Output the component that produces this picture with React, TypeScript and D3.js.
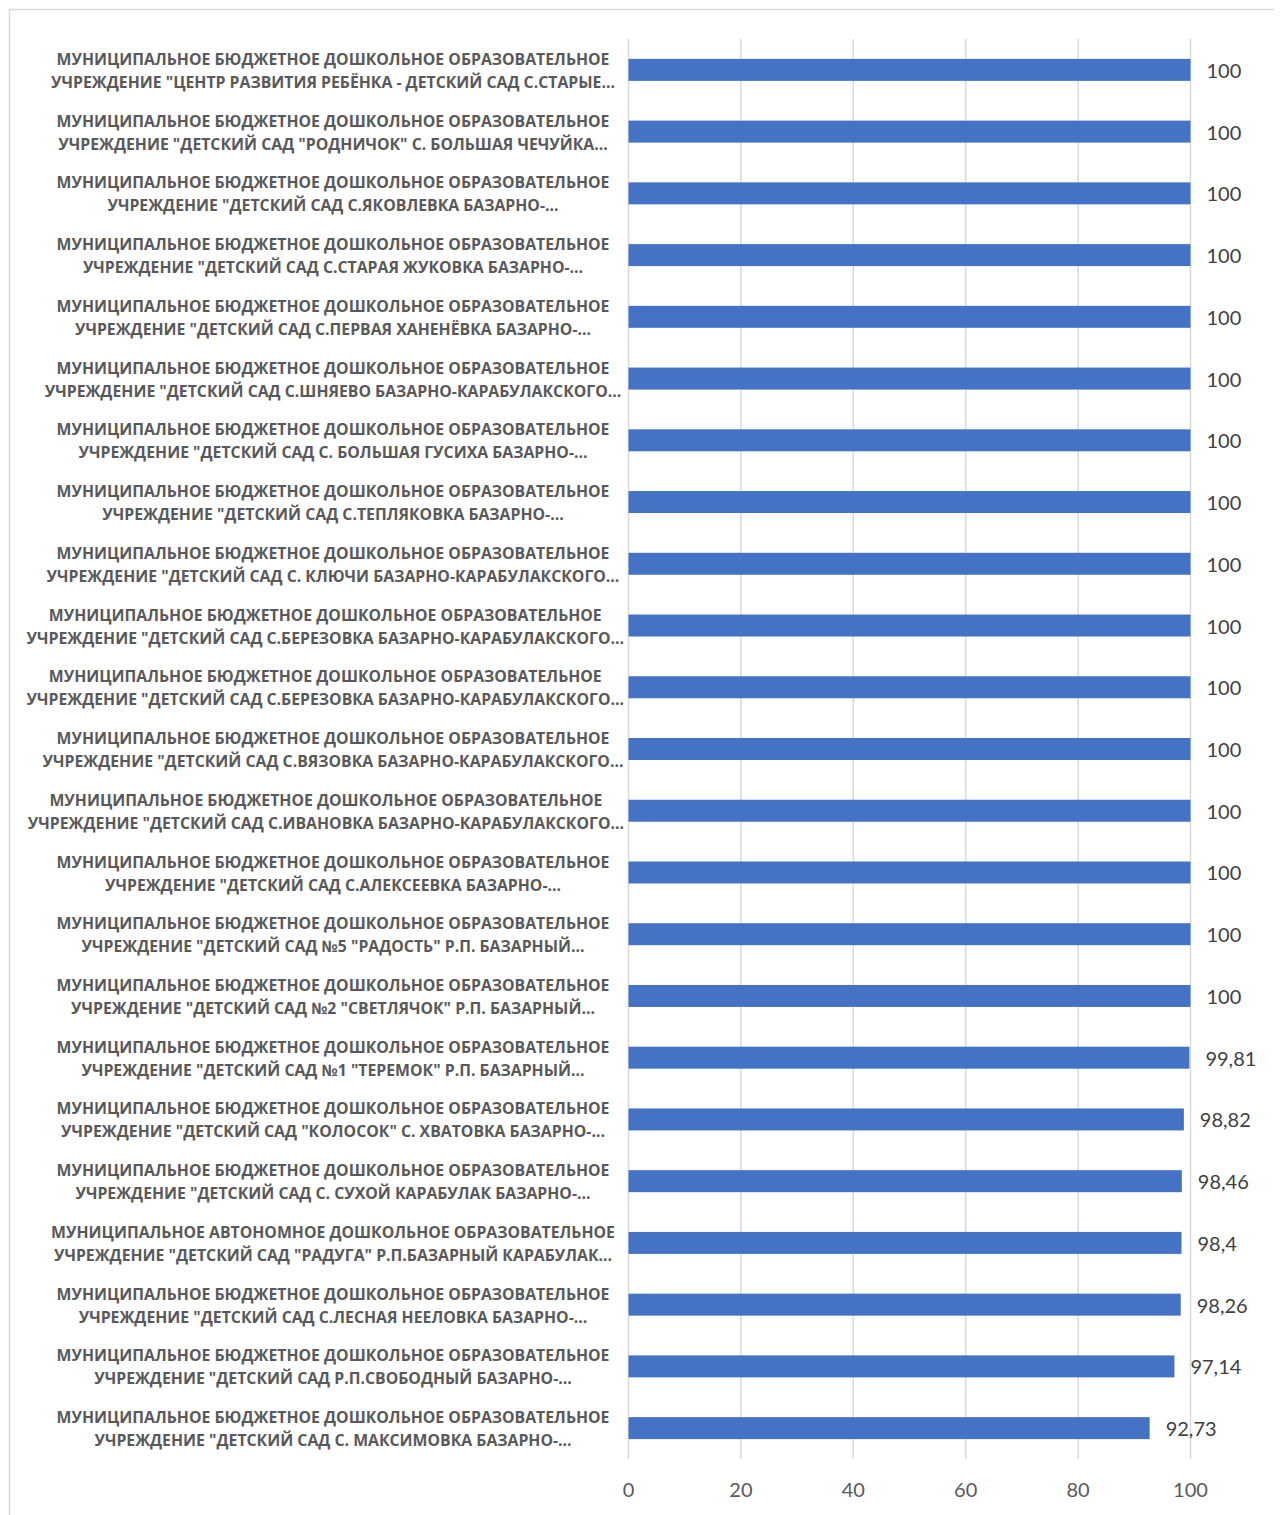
import React, { useEffect, useRef } from "react";
import * as d3 from "d3";

const LINE1_B = "МУНИЦИПАЛЬНОЕ БЮДЖЕТНОЕ ДОШКОЛЬНОЕ ОБРАЗОВАТЕЛЬНОЕ";
const LINE1_A = "МУНИЦИПАЛЬНОЕ АВТОНОМНОЕ ДОШКОЛЬНОЕ ОБРАЗОВАТЕЛЬНОЕ";

const firstLines: string[] = [
  LINE1_B, LINE1_B, LINE1_B, LINE1_B, LINE1_B, LINE1_B, LINE1_B, LINE1_B,
  LINE1_B, LINE1_B, LINE1_B, LINE1_B, LINE1_B, LINE1_B, LINE1_B, LINE1_B,
  LINE1_B, LINE1_B, LINE1_B, LINE1_A, LINE1_B, LINE1_B, LINE1_B,
];

const secondLines: string[] = [
  'УЧРЕЖДЕНИЕ "ЦЕНТР РАЗВИТИЯ РЕБЁНКА - ДЕТСКИЙ САД С.СТАРЫЕ…',
  'УЧРЕЖДЕНИЕ "ДЕТСКИЙ САД "РОДНИЧОК" С. БОЛЬШАЯ ЧЕЧУЙКА…',
  'УЧРЕЖДЕНИЕ "ДЕТСКИЙ САД С.ЯКОВЛЕВКА БАЗАРНО-…',
  'УЧРЕЖДЕНИЕ "ДЕТСКИЙ САД С.СТАРАЯ ЖУКОВКА БАЗАРНО-…',
  'УЧРЕЖДЕНИЕ "ДЕТСКИЙ САД С.ПЕРВАЯ ХАНЕНЁВКА БАЗАРНО-…',
  'УЧРЕЖДЕНИЕ "ДЕТСКИЙ САД С.ШНЯЕВО БАЗАРНО-КАРАБУЛАКСКОГО…',
  'УЧРЕЖДЕНИЕ "ДЕТСКИЙ САД С. БОЛЬШАЯ ГУСИХА БАЗАРНО-…',
  'УЧРЕЖДЕНИЕ "ДЕТСКИЙ САД С.ТЕПЛЯКОВКА БАЗАРНО-…',
  'УЧРЕЖДЕНИЕ "ДЕТСКИЙ САД С. КЛЮЧИ БАЗАРНО-КАРАБУЛАКСКОГО…',
  'УЧРЕЖДЕНИЕ "ДЕТСКИЙ САД С.БЕРЕЗОВКА БАЗАРНО-КАРАБУЛАКСКОГО…',
  'УЧРЕЖДЕНИЕ "ДЕТСКИЙ САД С.БЕРЕЗОВКА БАЗАРНО-КАРАБУЛАКСКОГО…',
  'УЧРЕЖДЕНИЕ "ДЕТСКИЙ САД С.ВЯЗОВКА БАЗАРНО-КАРАБУЛАКСКОГО…',
  'УЧРЕЖДЕНИЕ "ДЕТСКИЙ САД С.ИВАНОВКА БАЗАРНО-КАРАБУЛАКСКОГО…',
  'УЧРЕЖДЕНИЕ "ДЕТСКИЙ САД С.АЛЕКСЕЕВКА БАЗАРНО-…',
  'УЧРЕЖДЕНИЕ "ДЕТСКИЙ САД №5 "РАДОСТЬ" Р.П. БАЗАРНЫЙ…',
  'УЧРЕЖДЕНИЕ "ДЕТСКИЙ САД №2 "СВЕТЛЯЧОК" Р.П. БАЗАРНЫЙ…',
  'УЧРЕЖДЕНИЕ "ДЕТСКИЙ САД №1 "ТЕРЕМОК" Р.П. БАЗАРНЫЙ…',
  'УЧРЕЖДЕНИЕ "ДЕТСКИЙ САД "КОЛОСОК" С. ХВАТОВКА БАЗАРНО-…',
  'УЧРЕЖДЕНИЕ "ДЕТСКИЙ САД С. СУХОЙ КАРАБУЛАК БАЗАРНО-…',
  'УЧРЕЖДЕНИЕ "ДЕТСКИЙ САД "РАДУГА" Р.П.БАЗАРНЫЙ КАРАБУЛАК…',
  'УЧРЕЖДЕНИЕ "ДЕТСКИЙ САД С.ЛЕСНАЯ НЕЕЛОВКА БАЗАРНО-…',
  'УЧРЕЖДЕНИЕ "ДЕТСКИЙ САД Р.П.СВОБОДНЫЙ БАЗАРНО-…',
  'УЧРЕЖДЕНИЕ "ДЕТСКИЙ САД С. МАКСИМОВКА БАЗАРНО-…',
];

const values: number[] = [
  100, 100, 100, 100, 100, 100, 100, 100, 100, 100, 100, 100, 100, 100, 100, 100,
  99.81, 98.82, 98.46, 98.4, 98.26, 97.14, 92.73,
];

const xTicks: number[] = [0, 20, 40, 60, 80, 100];

const W = 1274;
const H = 1507;

export default function App() {
  const ref = useRef<SVGSVGElement | null>(null);

  useEffect(() => {
    const svg = d3.select(ref.current);
    svg.selectAll("*").remove();

    const ox = -8; // page offset (body margin)
    const left = 628.5 + ox;
    const right = 1190.5 + ox;
    const top = 39 + ox;
    const bottom = 1459 + ox;

    const idx = values.map((_, i) => i);
    const x = d3.scaleLinear().domain([0, 100]).range([left, right]);
    const y = d3.scaleBand<number>().domain(idx).range([top, bottom]).paddingInner(0.644).paddingOuter(0.322);

    svg.append("rect")
      .attr("x", 1.5).attr("y", 1.5)
      .attr("width", W + 20).attr("height", H + 20)
      .attr("fill", "#fff").attr("stroke", "#d9d9d9").attr("stroke-width", 1.5);

    svg.append("g").selectAll("line").data(xTicks).join("line")
      .attr("x1", (d) => x(d)).attr("x2", (d) => x(d))
      .attr("y1", top).attr("y2", bottom)
      .attr("stroke", "#d9d9d9").attr("stroke-width", 1.5);

    svg.append("g").selectAll("rect").data(idx).join("rect")
      .attr("x", x(0))
      .attr("y", (i) => y(i)!)
      .attr("width", (i) => x(values[i]) - x(0))
      .attr("height", y.bandwidth())
      .attr("fill", "#4472c4");

    svg.append("g").selectAll("text").data(idx).join("text")
      .attr("x", (i) => x(values[i]) + 16)
      .attr("y", (i) => y(i)! + y.bandwidth() / 2 + 1)
      .attr("dy", "0.35em")
      .attr("font-family", "Lato, 'Open Sans', sans-serif")
      .attr("font-size", 20)
      .attr("fill", "#404040")
      .text((i) => String(values[i]).replace(".", ","));

    svg.append("g").selectAll("text").data(xTicks).join("text")
      .attr("x", (d) => x(d))
      .attr("y", 1490 + ox)
      .attr("dy", "0.35em")
      .attr("text-anchor", "middle")
      .attr("font-family", "Lato, 'Open Sans', sans-serif")
      .attr("font-size", 20)
      .attr("fill", "#595959")
      .text((d) => String(d));

    const lab = svg.append("g");
    idx.forEach((i) => {
      const cy = y(i)! + y.bandwidth() / 2 + 1;
      const g = lab.append("g");
      const t1 = g.append("text").attr("y", cy - 11.5).text(firstLines[i]);
      const t2 = g.append("text").attr("y", cy + 11.5).text(secondLines[i]);
      g.selectAll("text")
        .attr("dy", "0.35em")
        .attr("text-anchor", "middle")
        .attr("font-family", "'Open Sans', sans-serif")
        .attr("font-weight", 700)
        .attr("font-size", 15.8)
        .attr("fill", "#595959");
      const w = Math.max(
        (t1.node() as SVGTextElement).getComputedTextLength(),
        (t2.node() as SVGTextElement).getComputedTextLength()
      );
      const cx = Math.min(333 + ox, 624 + ox - w / 2);
      g.selectAll("text").attr("x", cx);
    });
  }, []);

  return <svg ref={ref} width={W} height={H} style={{ display: "block" }} />;
}
